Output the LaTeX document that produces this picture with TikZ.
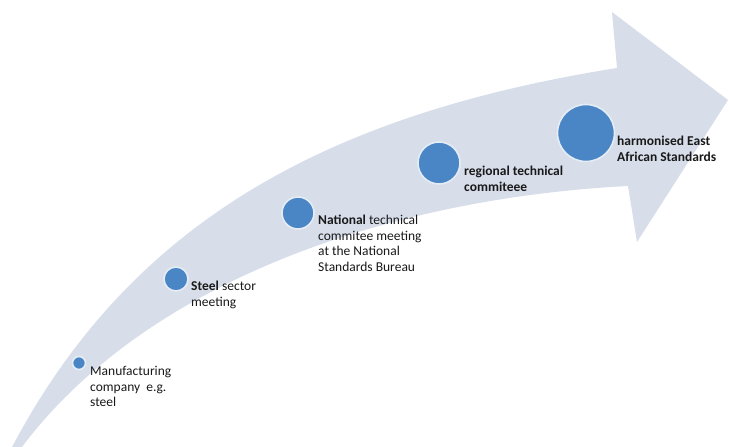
\documentclass[tikz,border=0pt]{standalone}
\usepackage{fontspec}
\setmainfont{Carlito}
\definecolor{bandfill}{RGB}{215,222,234}
\definecolor{dotfill}{RGB}{74,133,197}
\definecolor{txt}{RGB}{25,25,25}
\begin{document}
\begin{tikzpicture}[x=1pt,y=1pt,
  dot/.style={circle, fill=dotfill, draw=white!85!dotfill, line width=1.6pt, inner sep=0pt},
  lbl/.style={anchor=base west, align=left, inner sep=0pt, text=txt,
    font=\fontsize{13.5}{15.5}\selectfont}]
\useasboundingbox (0,0) rectangle (729,447);
% curved arrow
\fill[bandfill] (12,0) .. controls (129,221) and (321,332) .. (617,379)
  -- (612,435) -- (728,347) -- (637,205) -- (628,261)
  .. controls (378,248) and (142,160) .. (22,0) -- cycle;
% stage dots
\node[dot, minimum size=13pt] (c1) at (79,84) {};
\node[dot, minimum size=24pt] (c2) at (176,168) {};
\node[dot, minimum size=32pt] (c3) at (298,234) {};
\node[dot, minimum size=42pt] (c4) at (439,284) {};
\node[dot, minimum size=57pt] (c5) at (586,314) {};
% labels (anchor = baseline of the last line)
\node[lbl] (t1) at (90,40) {Manufacturing\\company\ \ e.g.\\steel};
\node[lbl] (t2) at (191,140.5) {\textbf{Steel} sector\\meeting};
\node[lbl] (t3) at (318,175.5) {\textbf{National} technical\\commitee meeting\\at the National\\Standards Bureau};
\node[lbl, font=\fontsize{13.5}{15.5}\selectfont\bfseries] (t4) at (464,255.5) {regional technical\\commiteee};
\node[lbl, font=\fontsize{13.5}{15.5}\selectfont\bfseries] (t5) at (617,285.5) {harmonised East\\African Standards};
\end{tikzpicture}
\end{document}
